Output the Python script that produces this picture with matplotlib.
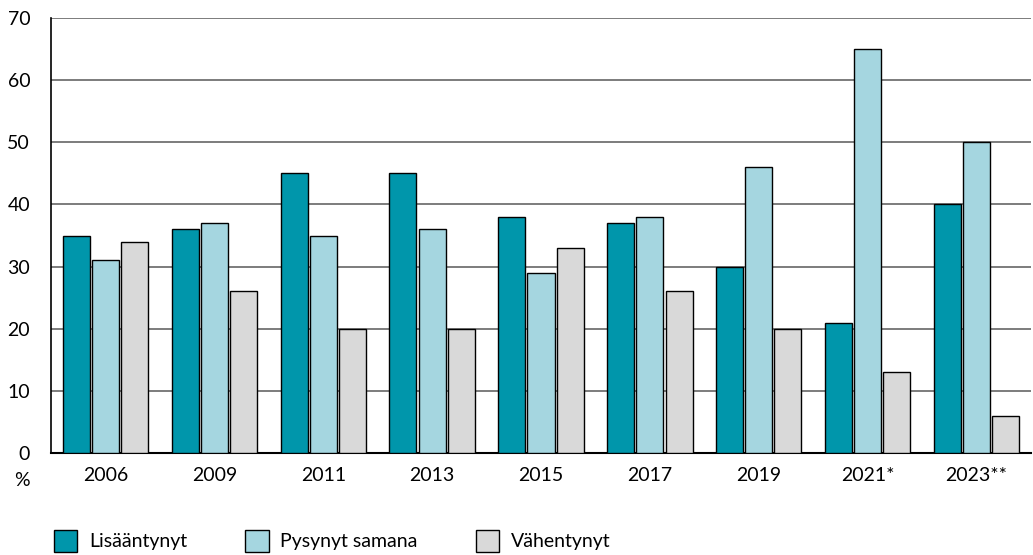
import numpy as np
import matplotlib
matplotlib.use("Agg")
import matplotlib.pyplot as plt

plt.rcParams['font.family'] = ['Lato', 'DejaVu Sans']

# Data
years = ['2006', '2009', '2011', '2013', '2015', '2017', '2019', '2021*', '2023**']
lisaantynyt = [35, 36, 45, 45, 38, 37, 30, 21, 40]
pysynyt = [31, 37, 35, 36, 29, 38, 46, 65, 50]
vahentynyt = [34, 26, 20, 20, 33, 26, 20, 13, 6]

series = [
    ('Lisääntynyt', lisaantynyt, '#0096AB'),
    ('Pysynyt samana', pysynyt, '#A5D6E0'),
    ('Vähentynyt', vahentynyt, '#D9D9D9'),
]

fig = plt.figure(figsize=(10.33, 5.55), dpi=100)
ax = fig.add_axes([51 / 1033, 102 / 555, 980 / 1033, 435 / 555])

x = np.arange(len(years))
step = 0.268
width = 0.248
for i, (name, vals, col) in enumerate(series):
    ax.bar(x + (i - 1) * step, vals, width, color=col, edgecolor='black',
           linewidth=1, label=name, zorder=3)

ax.set_xlim(-0.5, len(years) - 0.5)
ax.set_ylim(0, 70)
ax.set_yticks(range(0, 71, 10))
ax.yaxis.grid(True, color='#666666', linewidth=1.2, zorder=0)
ax.set_xticks(x)
ax.set_xticklabels(years)
ax.tick_params(axis='both', length=0, labelsize=14)
ax.tick_params(axis='x', pad=10)
ax.tick_params(axis='y', pad=15)

for s in ['top', 'right']:
    ax.spines[s].set_visible(False)
ax.spines['left'].set_linewidth(1.2)
ax.spines['bottom'].set_linewidth(1.5)

fig.text(22 / 1033, 1 - 480 / 555, '%', fontsize=14, ha='center', va='center')

leg = ax.legend(loc='upper left', bbox_to_anchor=(-0.005, -0.16), ncol=3,
                frameon=False, fontsize=14, handlelength=1.2, handleheight=1.3,
                handletextpad=0.6, columnspacing=3.0, borderaxespad=0)

fig.savefig('out.png', dpi=100)
